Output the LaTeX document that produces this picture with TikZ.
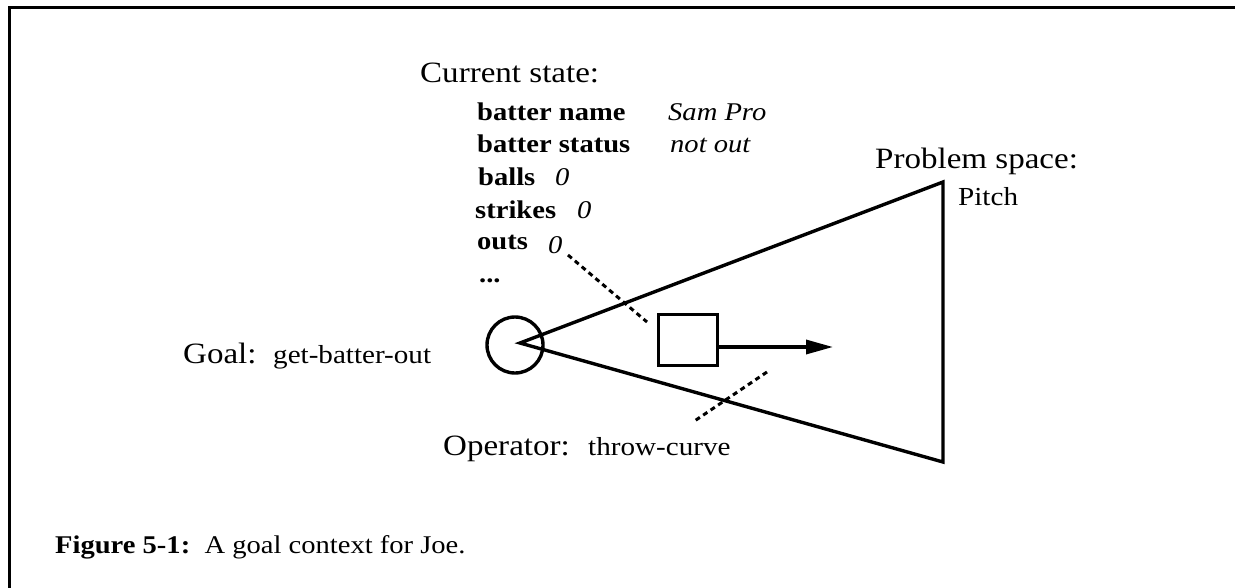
\documentclass[tikz,border=0pt]{standalone}
\usepackage{fontspec}
\setmainfont[FakeStretch=1.12]{Liberation Serif}
\usetikzlibrary{arrows.meta}
\begin{document}
\begin{tikzpicture}[x=1pt,y=-1pt,
  big/.style={anchor=base west,inner sep=0,font=\fontsize{29.5}{32}\selectfont},
  med/.style={anchor=base west,inner sep=0,font=\fontsize{26}{28}\selectfont},
  bld/.style={anchor=base west,inner sep=0,font=\fontsize{25.5}{28}\selectfont\bfseries},
  itl/.style={anchor=base west,inner sep=0,font=\fontsize{25.5}{28}\selectfont\itshape},
  captext/.style={anchor=base west,inner sep=0,font=\fontsize{25.5}{28}\selectfont},
  thick line/.style={line width=3.4pt},
  dotline/.style={line width=3pt,dash pattern=on 5pt off 4pt}]
\useasboundingbox (0,0) rectangle (1235,587);
% frame
\draw[line width=3pt] (9,590) -- (9,7) -- (1240,7);
% labels
\node[big] (cs) at (420,82) {Current state:};
\node[bld] (bn) at (477,120) {batter name};
\node[itl] (bnv) at (668,120) {Sam Pro};
\node[bld] (bs) at (477,152) {batter status};
\node[itl] (bsv) at (670,152) {not out};
\node[bld] (balls) at (478,185) {balls};
\node[itl] (ballsv) at (555,185) {0};
\node[bld] (strikes) at (475,218) {strikes};
\node[itl] (strikesv) at (577,218) {0};
\node[bld] (outs) at (477,249) {outs};
\node[itl] (outsv) at (548,253) {0};
\node[bld] (dots) at (479,282) {...};
\node[big] (psl) at (875,168) {Problem space:};
\node[med] (pitch) at (958,205) {Pitch};
\node[big] (goall) at (183,363) {Goal:};
\node[med] (goalv) at (273,363) {get-batter-out};
\node[big] (opl) at (443,455) {Operator:};
\node[med] (opv) at (588,455) {throw-curve};
\node[captext] (capt) at (55,553) {\textbf{Figure 5-1:}\ \ A goal context for Joe.};
% shapes
\node[circle,draw,thick line,minimum size=56pt,inner sep=0] (goal) at (515,345) {};
\coordinate (apex) at (520,343);
\coordinate (pstop) at (943,182);
\coordinate (psbot) at (943,462);
\draw[thick line,line join=miter] (pstop) -- (apex) -- (psbot) -- cycle;
\node[draw,thick line,minimum width=59pt,minimum height=51pt,inner sep=0] (op) at (688,340) {};
\coordinate (arrowend) at (833,347);
\draw[thick line,-{Triangle[length=27pt,width=14pt]}] (op.east |- arrowend) -- (arrowend);
% dotted leaders
\coordinate (d1a) at (568,255);
\coordinate (d1b) at (647,322);
\draw[dotline] (d1a) -- (d1b);
\coordinate (d2a) at (767,372);
\coordinate (d2b) at (693,422);
\draw[dotline] (d2a) -- (d2b);
\end{tikzpicture}
\end{document}
